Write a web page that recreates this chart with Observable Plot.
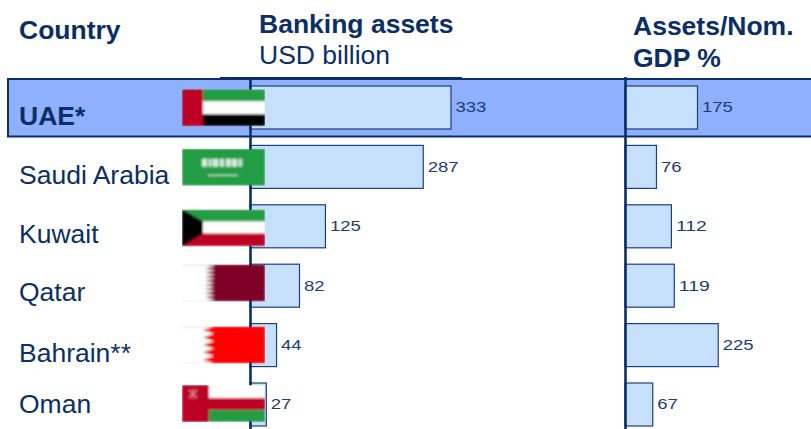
<!DOCTYPE html>
<html>
<head>
<meta charset="utf-8">
<script src="https://cdn.jsdelivr.net/npm/d3@7"></script>
<script src="https://cdn.jsdelivr.net/npm/@observablehq/plot@0.6"></script>
<style>
  html, body { margin: 0; padding: 0; background: #fff; overflow: hidden; }
  #chart { position: relative; width: 811px; height: 429px; }
  #chart svg { position: absolute; left: 0; top: 0; display: block; max-width: none; }
</style>
</head>
<body>
<div id="chart"></div>
<script>
// GCC banking sector: total assets and assets relative to nominal GDP
const countries = ["UAE*", "Saudi Arabia", "Kuwait", "Qatar", "Bahrain**", "Oman"];
const bankingAssets = [333, 287, 125, 82, 44, 27];
const assetsToGdp = [175, 76, 112, 119, 225, 67];
const highlighted = "UAE*";

// Row-by-row vertical nudges for the country names and flags
const nameNudge = [8.6, 7.7, 8, 6.6, 8.2, -0.8];
const flagNudge = [-0.3, -0.2, 1.1, -3.3, -0.7, -1.6];

const NAVY = "#0b2e66";
const BAR_FILL = "#c6dffb";
const BAR_STROKE = "#1c4078";
const BAND_FILL = "#8fb0ff";
const FONT = "'Liberation Sans', Arial, sans-serif";
const WIDTH = 811, HEIGHT = 429;
const TITLE_SIZE = 26.5;

// Small flag artwork, softened a little as low-resolution emblems are
const GREEN = "#239c45", RED = "#bd0025", MAROON = "#7e0028", SCARLET = "#ff0000";
const serrated = (x0, x1, teeth, h) => {
  const step = h / teeth;
  let p = `M0 0H${x0}`;
  for (let i = 0; i < teeth; i++) p += `L${x1} ${(i + 0.5) * step}L${x0} ${(i + 1) * step}`;
  return p + `H0Z`;
};
const flagArt = {
  "UAE*": `<rect width="83" height="37" fill="#fff"/><rect width="83" height="12" fill="${GREEN}"/><rect y="25" width="83" height="12" fill="#000"/><rect width="21" height="37" fill="${RED}"/>`,
  "Saudi Arabia": `<rect width="83" height="37" fill="${GREEN}"/><path d="M20 14H61" stroke="#fff" stroke-width="8" stroke-dasharray="5 1.5 3 1 6 1.5 4 2 5 1" opacity=".82"/><path d="M26 26.5H56" stroke="#fff" stroke-width="1.2" opacity=".8"/>`,
  "Kuwait": `<rect width="83" height="37" fill="#fff"/><rect width="83" height="12" fill="${GREEN}"/><rect y="24" width="83" height="13" fill="${RED}"/><path d="M0 0L21 12V24L0 37Z" fill="#000"/>`,
  "Qatar": `<rect width="83" height="37" fill="${MAROON}"/><path d="${serrated(23, 33, 9, 37)}" fill="#fff"/>`,
  "Bahrain**": `<rect width="83" height="37" fill="${SCARLET}"/><path d="${serrated(32, 21, 5, 37)}" fill="#fff"/>`,
  "Oman": `<rect width="83" height="37" fill="#fff"/><rect y="13" width="83" height="12" fill="${RED}"/><rect y="25" width="83" height="12" fill="${GREEN}"/><rect width="27" height="37" fill="${RED}"/><path d="M7 5L15 13M15 5L7 13M11 4V14" stroke="#e9a9b3" stroke-width="1" fill="none"/>`
};
const flagSrc = (name) => "data:image/svg+xml," + encodeURIComponent(
  `<svg xmlns="http://www.w3.org/2000/svg" viewBox="0 0 83 37" width="83" height="37" preserveAspectRatio="none"><filter id="s" x="-5%" y="-5%" width="110%" height="110%"><feGaussianBlur stdDeviation="0.9"/></filter><g filter="url(#s)">${flagArt[name]}</g></svg>`
);

// Shared row scale: six equal rows running down the page
const yScale = {
  type: "band", domain: countries, range: [86, 426],
  paddingInner: 0.276, paddingOuter: 0, round: false, axis: null
};

// Each panel gets its own x scale with its zero sitting on its axis line
const panelX = (zeroPx, pxPerUnit) => ({
  type: "linear",
  domain: [-zeroPx / pxPerUnit, (WIDTH - zeroPx) / pxPerUnit],
  range: [0, WIDTH],
  axis: null
});
const assetsPerPx = 201 / 333, gdpPerPx = 72.5 / 175;
const assetsZero = 250, gdpZero = 625;
const atAssets = (px) => (px - assetsZero) / assetsPerPx;
const atGdp = (px) => (px - gdpZero) / gdpPerPx;

// Value labels are set wide: stretched to a fixed advance per digit
const widen = (perChar) => (index, scales, values, dims, context, next) => {
  const g = next(index, scales, values, dims, context);
  g.querySelectorAll("text").forEach((t) => {
    t.setAttribute("textLength", t.textContent.length * perChar);
    t.setAttribute("lengthAdjust", "spacingAndGlyphs");
  });
  return g;
};

const rows = (values) => countries.map((country, i) => ({ country, value: values[i] }));

// The axis line runs over the bars, the flags later cover it
const panelMarks = (values) => [
  Plot.barX(rows(values), {
    x1: 0, x2: "value", y: "country",
    fill: BAR_FILL, stroke: BAR_STROKE, strokeWidth: 1.2
  }),
  Plot.ruleX([0], { stroke: NAVY, strokeWidth: 2.6 }),
  Plot.text(rows(values), {
    x: "value", y: "country", text: (d) => String(d.value),
    textAnchor: "start", dx: 4, fontSize: 14, fill: "#1d3c72",
    render: widen(10.3)
  })
];

// Column heading, placed by its baseline relative to the first row
const rowCentre = 107.35;
const heading = (label, x, baseline, weight) =>
  Plot.text([label], {
    x: () => x, y: () => highlighted, text: (d) => d,
    textAnchor: "start", lineAnchor: "middle",
    dy: baseline - rowCentre - TITLE_SIZE * 0.32,
    fontSize: TITLE_SIZE, fontWeight: weight, fill: NAVY
  });

const base = {
  width: WIDTH, height: HEIGHT,
  marginLeft: 0, marginRight: 0, marginTop: 77, marginBottom: 0,
  y: yScale
};

const assetsPlot = Plot.plot({
  ...base,
  x: panelX(assetsZero, assetsPerPx),
  style: { background: "#fff", fontFamily: FONT },
  marks: [
    // Highlight band behind the first row, wider than the bars
    Plot.barX([highlighted], {
      x1: atAssets(8), x2: atAssets(830), y: (d) => d,
      fill: BAND_FILL, stroke: NAVY, strokeWidth: 2,
      insetTop: -7, insetBottom: -7.5
    }),
    Plot.ruleY([highlighted], {
      y: (d) => d, x1: atAssets(220), x2: atAssets(462),
      dy: -30.5, stroke: NAVY, strokeWidth: 1
    }),
    ...panelMarks(bankingAssets),
    ...countries.map((name, i) =>
      Plot.image([name], {
        x: () => atAssets(223), y: (d) => d, src: flagSrc(name),
        width: 83, height: 37, preserveAspectRatio: "none", dy: flagNudge[i]
      })
    ),
    ...countries.map((name, i) =>
      Plot.text([name], {
        x: () => atAssets(18.5), y: (d) => d, text: (d) => d,
        textAnchor: "start", dy: nameNudge[i], fontSize: TITLE_SIZE,
        fontWeight: name === highlighted ? "bold" : "normal", fill: NAVY
      })
    ),
    heading("Country", atAssets(18.5), 38.5, "bold"),
    heading("Banking assets", atAssets(258.5), 32.5, "bold"),
    heading("USD billion", atAssets(258.5), 63.5, "normal")
  ]
});

const gdpPlot = Plot.plot({
  ...base,
  x: panelX(gdpZero, gdpPerPx),
  style: { background: "transparent", fontFamily: FONT },
  marks: [
    ...panelMarks(assetsToGdp),
    heading("Assets/Nom.", atGdp(632.5), 34.3, "bold"),
    heading("GDP %", atGdp(632.5), 66.5, "bold")
  ]
});

const chart = document.getElementById("chart");
chart.append(assetsPlot, gdpPlot);
</script>
</body>
</html>
